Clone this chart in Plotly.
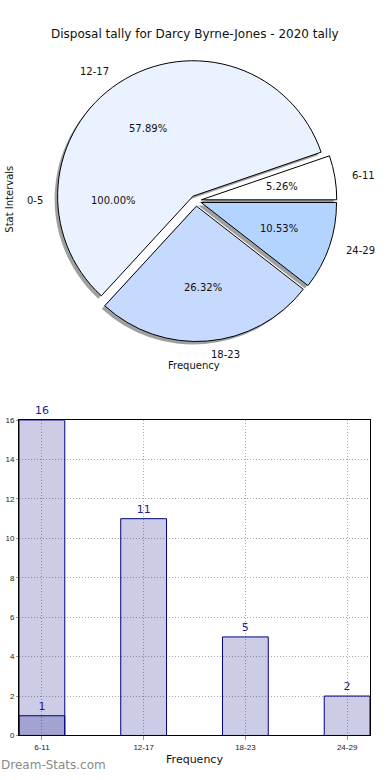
import math
import plotly.graph_objects as go

W, H = 390, 780

# ---- data ----
title = "Disposal tally for Darcy Byrne-Jones - 2020 tally"
pie_labels = ["6-11", "12-17", "18-23", "24-29"]
pie_values = [1, 11, 5, 2]
pie_colors = ["#ffffff", "#eaf1ff", "#c6d9ff", "#b3d4ff"]
zero_label = "0-5"
zero_pct = "100.00%"

bar_cats = ["6-11", "12-17", "18-23", "24-29"]
bar_values = [1, 11, 5, 2]
bar_extra_cats = ["6-11"]
bar_extra_values = [16]
y_ticks = [0, 2, 4, 6, 8, 10, 12, 14, 16]

# ---- pie geometry (pixels) ----
cx, cy, r, pull = 196, 199, 137, 0.04
half = r * (1 + pull)


def px(x):
    return x / W


def py(y):
    return 1 - y / H


total = sum(pie_values)
# plotly: with counterclockwise direction the first slice ends at `rotation`,
# so shift by the first slice so it starts at 3 o'clock (matplotlib startangle 0)
rot = 90 - 360.0 * pie_values[0] / total

fig = go.Figure()

# shadow pie
sh = 3
fig.add_trace(go.Pie(
    labels=pie_labels, values=pie_values, sort=False, direction="counterclockwise",
    rotation=rot, pull=pull, textinfo="none", hoverinfo="skip", showlegend=False,
    marker=dict(colors=["rgba(120,120,120,0.7)"] * 4, line=dict(width=0)),
    domain=dict(x=[px(cx - half - sh), px(cx + half - sh)],
                y=[py(cy + half + sh), py(cy - half + sh)]),
))
fig.add_trace(go.Pie(
    labels=pie_labels, values=pie_values, sort=False, direction="counterclockwise",
    rotation=rot, pull=pull, textinfo="none", showlegend=False,
    marker=dict(colors=pie_colors, line=dict(color="black", width=1)),
    domain=dict(x=[px(cx - half), px(cx + half)],
                y=[py(cy + half), py(cy - half)]),
))

annotations = []
start = 0.0
font10 = dict(family="DejaVu Sans", size=10, color="#111")
for lab, v in zip(pie_labels, pie_values):
    ang = 360.0 * v / total
    mid = math.radians(start + ang / 2)
    start += ang
    c, s = math.cos(mid), math.sin(mid)
    pct = f"{100.0 * v / total:.2f}%"
    annotations.append(dict(x=px(cx + (pull + 0.6) * r * c), y=py(cy - (pull + 0.6) * r * s),
                            xref="paper", yref="paper", text=pct, showarrow=False,
                            font=font10, xanchor="center", yanchor="middle"))
    annotations.append(dict(x=px(cx + (pull + 1.1) * r * c), y=py(cy - (pull + 1.1) * r * s),
                            xref="paper", yref="paper", text=lab, showarrow=False,
                            font=font10, xanchor="right" if c < 0 else "left", yanchor="middle"))
# zero-valued slice label (drawn at the left as in the source)
zc = math.cos(math.pi)
annotations.append(dict(x=px(cx + 0.6 * r * zc), y=py(cy), xref="paper", yref="paper",
                        text=zero_pct, showarrow=False, font=font10, xanchor="center", yanchor="middle"))
annotations.append(dict(x=px(cx + 1.1 * r * zc), y=py(cy), xref="paper", yref="paper",
                        text=zero_label, showarrow=False, font=font10, xanchor="right", yanchor="middle"))
annotations.append(dict(x=px(10), y=py(198), xref="paper", yref="paper", text="Stat Intervals",
                        textangle=-90, showarrow=False, font=font10, xanchor="center", yanchor="middle"))
annotations.append(dict(x=px(194), y=py(366), xref="paper", yref="paper", text="Frequency",
                        showarrow=False, font=font10, xanchor="center", yanchor="middle"))
annotations.append(dict(x=px(195), y=py(30), xref="paper", yref="paper", text=title,
                        showarrow=False, font=dict(family="DejaVu Sans", size=12, color="#111"),
                        xanchor="center", yanchor="middle"))
annotations.append(dict(x=px(-1), y=py(770), xref="paper", yref="paper", text="Dream-Stats.com",
                        showarrow=False, font=dict(family="DejaVu Sans", size=12, color="#8a8a8a"),
                        xanchor="left", yanchor="middle"))

# ---- bars ----
bar_fill = "rgba(0,0,128,0.2)"
txtcol = "#1c1c96"
fig.add_trace(go.Bar(
    x=bar_extra_cats, y=bar_extra_values, width=0.45, text=[str(v) for v in bar_extra_values],
    textposition="outside", cliponaxis=False, textfont=dict(family="DejaVu Sans", size=11, color=txtcol),
    marker=dict(color=bar_fill, line=dict(color="#000080", width=1)), showlegend=False,
))
fig.add_trace(go.Bar(
    x=bar_cats, y=bar_values, width=0.45, text=[str(v) for v in bar_values],
    textposition="outside", cliponaxis=False, textfont=dict(family="DejaVu Sans", size=11, color=txtcol),
    marker=dict(color=bar_fill, line=dict(color="#000080", width=1)), showlegend=False,
))

fig.update_layout(
    width=W, height=H, margin=dict(l=0, r=0, t=0, b=0),
    paper_bgcolor="white", plot_bgcolor="white", barmode="overlay",
    annotations=annotations,
    xaxis=dict(domain=[px(19), px(370)], type="category", categoryorder="array",
               categoryarray=bar_cats, range=[-0.225, 3.225],
               showgrid=True, gridcolor="#a8a8a8", griddash="1px,2px", gridwidth=1,
               showline=True, linecolor="black", linewidth=1, mirror=True,
               ticks="outside", ticklen=4, tickcolor="#999",
               tickfont=dict(family="Liberation Sans", size=8, color="#222"),
               title=dict(text="Frequency", font=dict(family="DejaVu Sans", size=11, color="#111"),
                          standoff=4)),
    yaxis=dict(domain=[py(740), py(421)], range=[0, 16], tickvals=y_ticks,
               showgrid=True, gridcolor="#a8a8a8", griddash="1px,2px", gridwidth=1,
               showline=True, linecolor="black", linewidth=1, mirror=True, zeroline=False,
               ticks="outside", ticklen=2, tickcolor="#999",
               tickfont=dict(family="Liberation Sans", size=8, color="#222")),
)

fig.write_html("out.html", config={"displayModeBar": False},
               post_script="document.body.style.margin='0';")
